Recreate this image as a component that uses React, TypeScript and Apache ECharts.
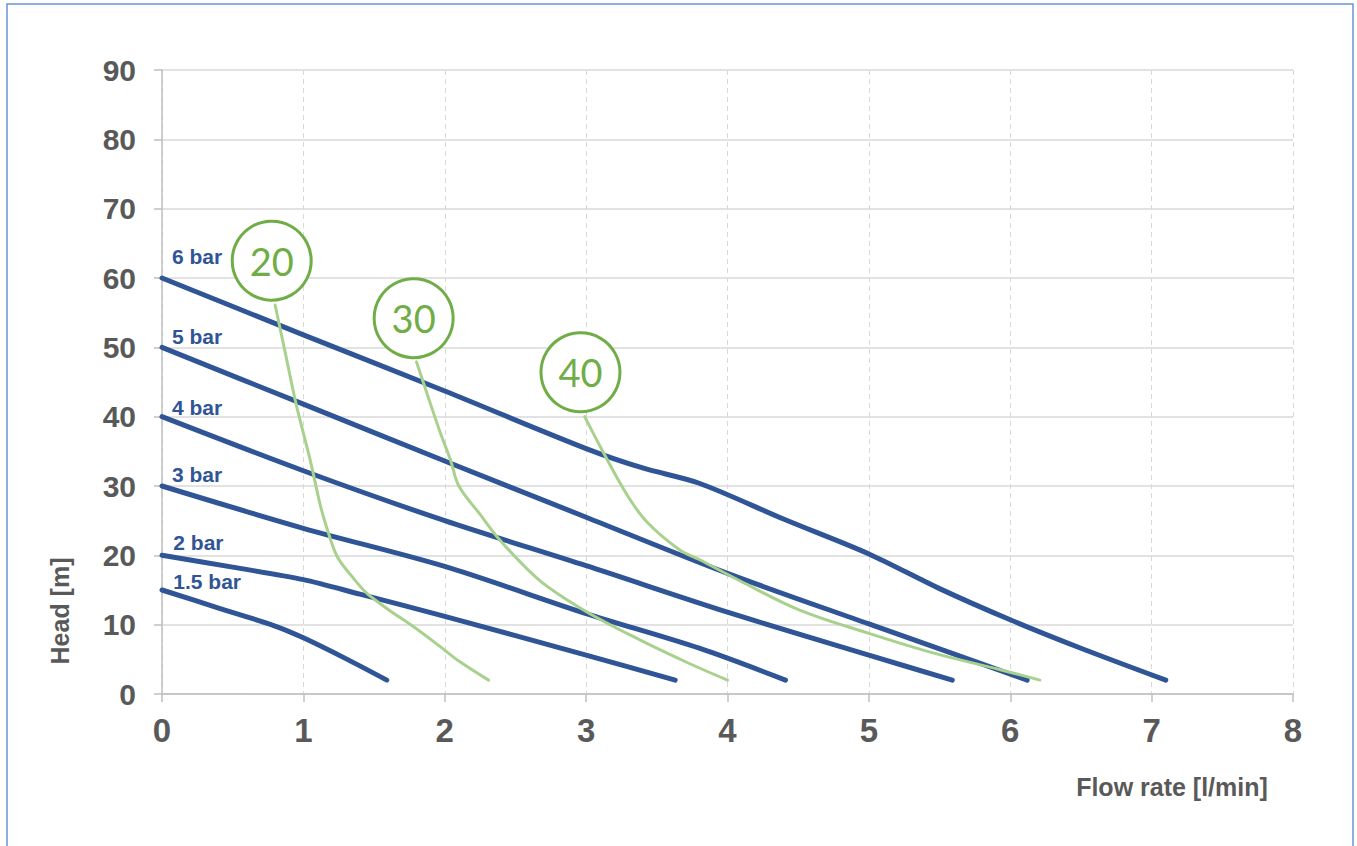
import React, { useEffect, useRef } from "react";
import * as echarts from "echarts";

// ---- data ----
const xTicks = [0, 1, 2, 3, 4, 5, 6, 7, 8];
const yTicks = [0, 10, 20, 30, 40, 50, 60, 70, 80, 90];

const pressureNames = ["6 bar", "5 bar", "4 bar", "3 bar", "2 bar", "1.5 bar"];
const bar6 = [[0, 60], [1, 51.8], [2, 43.7], [3, 35.4], [3.4, 32.6], [3.8, 30.4], [4.4, 25.2], [5, 20.2], [5.5, 15.2], [6, 10.7], [6.5, 6.6], [7.1, 2]];
const bar5 = [[0, 50], [1, 41.8], [2, 33.6], [3, 25.5], [4, 17.4], [5, 10.1], [5.5, 6.5], [6.12, 2]];
const bar4 = [[0, 40], [1, 32.2], [2, 25], [3, 18.5], [4, 11.8], [5, 5.6], [5.59, 2]];
const bar3 = [[0, 30], [1, 23.9], [2, 18.4], [3, 11.6], [3.8, 6.6], [4.41, 2]];
const bar2 = [[0, 20], [0.5, 18.3], [1, 16.5], [1.4, 14.4], [2, 11.2], [3, 5.6], [3.63, 2]];
const bar15 = [[0, 15], [0.4, 12.4], [0.8, 9.8], [1.0, 8.1], [1.3, 5.1], [1.59, 2]];
const pressureSeries = [bar6, bar5, bar4, bar3, bar2, bar15];
// label anchors (data units) for the pressure names
const pressureLabelX = [0.07, 0.07, 0.07, 0.07, 0.08, 0.08];
const pressureLabelY = [63.1, 51.5, 41.3, 31.7, 21.8, 16.2];

const strokeNames = ["20", "30", "40"];
const g20 = [[0.8, 56.1], [0.87, 49.4], [0.95, 41.7], [1.05, 33.6], [1.12, 27.2], [1.17, 23.7], [1.24, 19.8], [1.35, 16.8], [1.45, 14.5], [1.6, 12.2], [1.78, 9.7], [1.97, 6.8], [2.11, 4.6], [2.31, 2]];
const g30 = [[1.8, 47.9], [1.88, 43], [1.97, 37.6], [2.04, 33.8], [2.1, 30], [2.25, 25.9], [2.39, 22.2], [2.67, 16.4], [3.0, 11.9], [3.38, 7.8], [3.73, 4.4], [4.0, 2]];
const g40 = [[2.99, 40], [3.12, 34.9], [3.29, 28.7], [3.43, 24.8], [3.66, 20.8], [3.8, 19.4], [4.09, 16.3], [4.51, 12.1], [5.0, 8.75], [5.46, 5.9], [5.93, 3.5], [6.21, 2]];
const strokeSeries = [g20, g30, g40];
const strokeCircleX = [0.776, 1.78, 2.96];
const strokeCircleY = [62.5, 54.2, 46.4];

const xName = "Flow rate [l/min]";
const yName = "Head [m]";

const BLUE = "#2f5597";
const GREEN_LINE = "#a9d18e";
const GREEN = "#70ad47";
const GRAY_TXT = "#595959";
const FONT = "'Liberation Sans', Arial, sans-serif";

export default function App() {
  const ref = useRef<HTMLDivElement>(null);
  useEffect(() => {
    if (!ref.current) return;
    const chart = echarts.init(ref.current, null, { renderer: "svg" });
    const series: any[] = [];
    pressureSeries.forEach((d, i) => {
      series.push({
        type: "line",
        name: pressureNames[i],
        data: d,
        showSymbol: false,
        symbol: "none",
        smooth: 0.3,
        lineStyle: { color: BLUE, width: 5, cap: "round", join: "round" },
        z: 3,
      });
    });
    strokeSeries.forEach((d, i) => {
      series.push({
        type: "line",
        name: strokeNames[i],
        data: d,
        showSymbol: false,
        symbol: "none",
        smooth: 0.35,
        lineStyle: { color: GREEN_LINE, width: 3, cap: "round", join: "round" },
        z: 4,
      });
    });
    series.push({
      type: "scatter",
      data: strokeNames.map((n, i) => [strokeCircleX[i], strokeCircleY[i], n]),
      symbol: "circle",
      symbolSize: 79,
      itemStyle: { color: "#ffffff", borderColor: GREEN, borderWidth: 3, opacity: 1 },
      label: {
        show: true,
        position: "inside",
        formatter: (p: any) => p.value[2],
        color: GREEN,
        fontSize: 38,
        fontFamily: "Lato, 'Open Sans', sans-serif",
      },
      z: 5,
    });
    series.push({
      type: "scatter",
      data: pressureNames.map((n, i) => [pressureLabelX[i], pressureLabelY[i], n]),
      symbolSize: 0,
      itemStyle: { opacity: 1 },
      label: {
        show: true,
        position: [0, 0],
        align: "left",
        verticalAlign: "middle",
        formatter: (p: any) => p.value[2],
        color: BLUE,
        fontSize: 21,
        fontWeight: "bold",
        fontFamily: FONT,
      },
      z: 6,
    });

    chart.setOption({
      animation: false,
      backgroundColor: "#ffffff",
      grid: { left: 162, top: 70, right: 64, bottom: 152 },
      xAxis: {
        type: "value",
        min: xTicks[0],
        max: xTicks[xTicks.length - 1],
        interval: 1,
        axisLine: { show: true, lineStyle: { color: "#bfbfbf", width: 1.5 } },
        axisTick: { show: true, length: 8, lineStyle: { color: "#bfbfbf", width: 1.5 } },
        axisLabel: { color: GRAY_TXT, fontSize: 33, fontWeight: "bold", fontFamily: FONT, margin: 20 },
        splitLine: { show: true, lineStyle: { color: "#d9d9d9", type: [5, 4], width: 1 } },
      },
      yAxis: {
        type: "value",
        min: yTicks[0],
        max: yTicks[yTicks.length - 1],
        interval: 10,
        axisLine: { show: true, lineStyle: { color: "#bfbfbf", width: 1.5 } },
        axisTick: { show: true, length: 8, lineStyle: { color: "#bfbfbf", width: 1.5 } },
        axisLabel: { color: GRAY_TXT, fontSize: 30, fontWeight: "bold", fontFamily: FONT, margin: 26 },
        splitLine: { show: true, lineStyle: { color: "#d9d9d9", width: 1.5 } },
      },
      series,
      graphic: [
        {
          type: "rect",
          shape: { x: 7, y: 4, width: 1346, height: 900 },
          style: { fill: "none", stroke: "#6a95d3", lineWidth: 1.5 },
          silent: true,
          z: 0,
        },
        {
          type: "text",
          x: 60,
          y: 611,
          rotation: Math.PI / 2,
          style: {
            text: yName,
            fill: GRAY_TXT,
            font: `bold 25px ${FONT}`,
            textAlign: "center",
            textVerticalAlign: "middle",
          },
        },
        {
          type: "text",
          x: 1172,
          y: 787,
          style: {
            text: xName,
            fill: GRAY_TXT,
            font: `bold 25px ${FONT}`,
            textAlign: "center",
            textVerticalAlign: "middle",
          },
        },
      ],
    });
    return () => chart.dispose();
  }, []);
  return <div ref={ref} style={{ position: "fixed", left: 0, top: 0, width: 1357, height: 846 }} />;
}
